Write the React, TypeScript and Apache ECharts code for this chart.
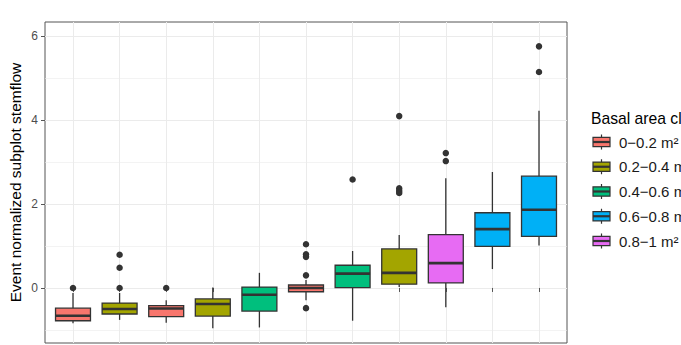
import React, { useEffect, useRef } from "react";
import * as echarts from "echarts";

// Subplots (x categories; their labels fall below the visible area)
const plots = ["1", "2", "3", "4", "5", "6", "7", "8", "9", "10", "11"];

// Basal area class of each subplot (index into classNames / classColors)
const plotClass = [0, 1, 0, 1, 2, 0, 2, 1, 4, 3, 3];

const classNames = ["0−0.2 m²", "0.2−0.4 m²", "0.4−0.6 m²", "0.6−0.8 m²", "0.8−1 m²"];
const classColors = ["#F8766D", "#A3A500", "#00BF7D", "#00B0F6", "#E76BF3"];

// Five-number summaries per subplot
const lowWhisker = [-0.84, -0.76, -0.83, -0.96, -0.94, -0.29, -0.78, 0.02, -0.46, 0.45, 1.01];
const q1 = [-0.78, -0.62, -0.68, -0.67, -0.55, -0.09, 0.01, 0.09, 0.12, 0.99, 1.23];
const median = [-0.66, -0.5, -0.49, -0.38, -0.16, 0.0, 0.34, 0.36, 0.59, 1.4, 1.86];
const q3 = [-0.48, -0.36, -0.42, -0.26, 0.02, 0.07, 0.54, 0.93, 1.27, 1.79, 2.66];
const highWhisker = [-0.12, -0.12, -0.29, 0.01, 0.36, 0.19, 0.88, 1.26, 2.61, 2.76, 4.22];

// Outlying observations per subplot
const outliers: number[][] = [
  [0],
  [0, 0.48, 0.79],
  [0],
  [],
  [],
  [1.04, 0.8, 0.74, 0.3, -0.48],
  [2.58],
  [4.09, 2.37, 2.31, 2.26],
  [3.21, 3.02],
  [],
  [5.75, 5.14],
];

const yTicks = [0, 2, 4, 6];
const yMin = -1.31;
const yMax = 6.33;

const FONT = "'Liberation Sans', Arial, Helvetica, sans-serif";
const INK = "#333333";
const FRAME = "#555555";
const GRID = "#EBEBEB";

export default function App() {
  const ref = useRef<HTMLDivElement>(null);

  useEffect(() => {
    if (!ref.current) return;
    const chart = echarts.init(ref.current, undefined, { renderer: "svg" });

    const boxData = plots.map((_, i) => [i, lowWhisker[i], q1[i], median[i], q3[i], highWhisker[i]]);
    const outlierData: number[][] = [];
    outliers.forEach((vals, i) => vals.forEach((v) => outlierData.push([i, v])));

    const renderBox = (params: any, api: any) => {
      const i = api.value(0);
      const bw = api.size([1, 0])[0];
      const half = bw * 0.375;
      const pLow = api.coord([i, api.value(1)]);
      const pQ1 = api.coord([i, api.value(2)]);
      const pMed = api.coord([i, api.value(3)]);
      const pQ3 = api.coord([i, api.value(4)]);
      const pHigh = api.coord([i, api.value(5)]);
      const cx = pMed[0];
      const fill = classColors[plotClass[i]];
      return {
        type: "group",
        children: [
          {
            type: "line",
            shape: { x1: cx, y1: pHigh[1], x2: cx, y2: pQ3[1] },
            style: { stroke: INK, lineWidth: 1.3 },
          },
          {
            type: "line",
            shape: { x1: cx, y1: pQ1[1], x2: cx, y2: pLow[1] },
            style: { stroke: INK, lineWidth: 1.3 },
          },
          {
            type: "rect",
            shape: { x: cx - half, y: pQ3[1], width: half * 2, height: pQ1[1] - pQ3[1] },
            style: { fill, stroke: INK, lineWidth: 1.3 },
          },
          {
            type: "line",
            shape: { x1: cx - half, y1: pMed[1], x2: cx + half, y2: pMed[1] },
            style: { stroke: INK, lineWidth: 2.6 },
          },
        ],
      };
    };

    // Legend drawn as boxplot key glyphs
    const legendTop = 142;
    const legendStep = 24.75;
    const legendItems: any[] = [];
    classNames.forEach((name, k) => {
      const cy = legendTop + legendStep * k;
      const x0 = 593;
      const x1 = 610;
      const xm = (x0 + x1) / 2;
      legendItems.push(
        { type: "line", shape: { x1: xm, y1: cy - 7.5, x2: xm, y2: cy + 7.5 }, style: { stroke: INK, lineWidth: 1.2 } },
        {
          type: "rect",
          shape: { x: x0, y: cy - 4.7, width: x1 - x0, height: 9.4 },
          style: { fill: classColors[k], stroke: INK, lineWidth: 1.2 },
        },
        { type: "line", shape: { x1: x0, y1: cy, x2: x1, y2: cy }, style: { stroke: INK, lineWidth: 2.2 } },
        {
          type: "text",
          x: 619,
          y: cy,
          style: { text: name, fontSize: 15, fontFamily: FONT, fill: "#1a1a1a", align: "left", verticalAlign: "middle" },
        }
      );
    });

    chart.setOption({
      animation: false,
      backgroundColor: "#ffffff",
      textStyle: { fontFamily: FONT },
      grid: [
        { left: 45, top: 22, right: 114, bottom: 2, show: true, borderColor: FRAME, borderWidth: 1, backgroundColor: "#ffffff" },
        { left: 73, top: 22, right: 142, bottom: 2 },
      ],
      xAxis: [
        { gridIndex: 0, type: "value", min: 0, max: 1, show: false },
        {
          gridIndex: 1,
          type: "category",
          data: plots,
          boundaryGap: false,
          axisLine: { show: false },
          axisTick: { show: true, interval: 0, length: 4, lineStyle: { color: FRAME, width: 1 } },
          axisLabel: { show: false, interval: 0 },
          splitLine: { show: true, interval: 0, lineStyle: { color: GRID, width: 1 } },
        },
      ],
      yAxis: [
        {
          gridIndex: 0,
          type: "value",
          min: yMin,
          max: yMax,
          splitNumber: 4,
          axisLine: { show: false },
          axisTick: { show: true, length: 4, customValues: yTicks, lineStyle: { color: FRAME, width: 1 } },
          axisLabel: { customValues: yTicks, color: "#4D4D4D", fontSize: 12, margin: 7, fontFamily: FONT },
          splitLine: { show: true, lineStyle: { color: GRID, width: 1 } },
          minorTick: { show: false, splitNumber: 2 },
          minorSplitLine: { show: true, lineStyle: { color: GRID, width: 0.6 } },
        },
        { gridIndex: 1, type: "value", min: yMin, max: yMax, show: false },
      ],
      series: [
        {
          type: "custom",
          name: "box",
          xAxisIndex: 1,
          yAxisIndex: 1,
          data: boxData,
          encode: { x: 0, y: [1, 2, 3, 4, 5] },
          renderItem: renderBox,
          z: 3,
        },
        {
          type: "scatter",
          name: "outliers",
          xAxisIndex: 1,
          yAxisIndex: 1,
          data: outlierData,
          symbol: "circle",
          symbolSize: 6.5,
          itemStyle: { color: INK, opacity: 1 },
          z: 4,
        },
      ],
      graphic: [
        {
          type: "text",
          x: 15,
          y: 182.5,
          rotation: Math.PI / 2,
          style: {
            text: "Event normalized subplot stemflow",
            fontSize: 15.5,
            fontFamily: FONT,
            fill: "#000000",
            align: "center",
            verticalAlign: "middle",
          },
        },
        {
          type: "text",
          x: 591,
          y: 118,
          style: {
            text: "Basal area class",
            fontSize: 15.7,
            fontFamily: FONT,
            fill: "#000000",
            align: "left",
            verticalAlign: "middle",
          },
        },
        ...legendItems,
      ],
    });

    return () => chart.dispose();
  }, []);

  return <div ref={ref} style={{ position: "absolute", left: 0, top: 0, width: 681, height: 345 }} />;
}
